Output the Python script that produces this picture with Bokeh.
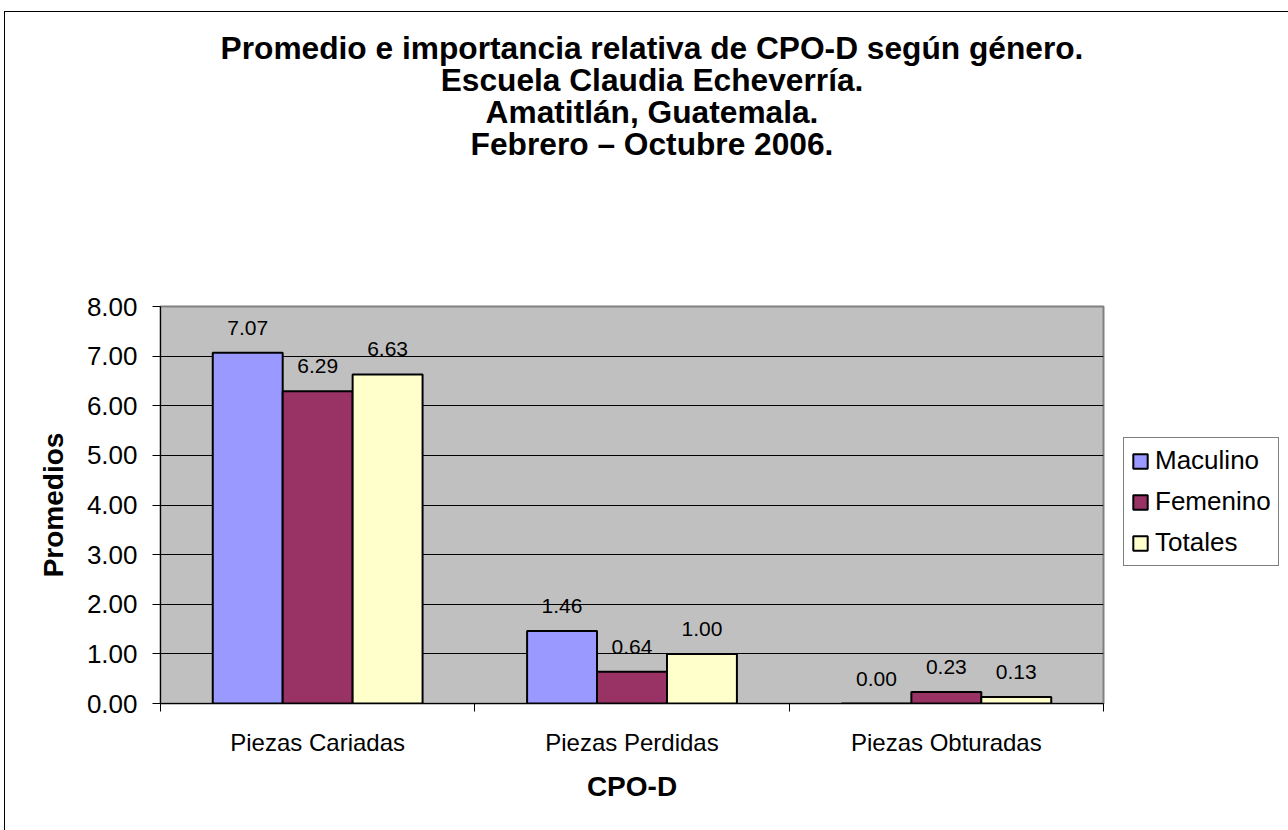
from bokeh.plotting import figure
from bokeh.models import (ColumnDataSource, FixedTicker, NumeralTickFormatter, Title,
                          LabelSet, Legend, LegendItem, Range1d, InlineStyleSheet)
from bokeh.core.properties import value
from bokeh.embed import file_html
from bokeh.resources import INLINE

# ---- data ----
categories = ["Piezas Cariadas", "Piezas Perdidas", "Piezas Obturadas"]
series_names = ["Maculino", "Femenino", "Totales"]
maculino = [7.07, 1.46, 0.00]
femenino = [6.29, 0.64, 0.23]
totales = [6.63, 1.00, 0.13]
series_colors = ["#9999FF", "#993366", "#FFFFCC"]
y_ticks = [0, 1, 2, 3, 4, 5, 6, 7, 8]
title_lines = [
    "Promedio e importancia relativa de CPO-D según género.",
    "Escuela Claudia Echeverría.",
    "Amatitlán, Guatemala.",
    "Febrero – Octubre 2006.",
]
x_label = "CPO-D"
y_label = "Promedios"

FONT = "Liberation Sans"
bar_w = 0.2225
offsets = [-bar_w, 0.0, bar_w]

p = figure(frame_width=943, frame_height=397,
           min_border_left=160, min_border_right=185,
           min_border_top=306, min_border_bottom=127,
           x_range=Range1d(0, len(categories)), y_range=Range1d(0, 8),
           output_backend="svg", toolbar_location=None, tools="")

# outer chart-area border: its right and bottom edges lie outside the picture
p.stylesheets = [InlineStyleSheet(css=(
    ":host { overflow: hidden; }"
    ":host::before { content: ''; position: absolute; left: 4px; top: 11px; "
    "width: 3000px; height: 3000px; box-sizing: border-box; "
    "border-left: 1px solid #000; border-top: 1px solid #000; "
    "pointer-events: none; z-index: 10; }"))]

p.background_fill_color = "#C0C0C0"
p.border_fill_color = "white"
p.outline_line_color = "#808080"
p.outline_line_width = 2

# x axis
p.xaxis.ticker = FixedTicker(ticks=[i + 0.5 for i in range(len(categories))],
                             minor_ticks=list(range(len(categories) + 1)))
p.xaxis.major_label_overrides = {i + 0.5: c for i, c in enumerate(categories)}
p.xaxis.major_tick_line_color = None
p.xaxis.major_tick_out = 8
p.xaxis.major_tick_in = 0
p.xaxis.minor_tick_out = 8
p.xaxis.minor_tick_in = 0
p.xaxis.minor_tick_line_color = "black"
p.xaxis.axis_line_color = "black"
p.xaxis.major_label_text_font = FONT
p.xaxis.major_label_text_font_size = "24px"
p.xaxis.major_label_text_color = "black"
p.xaxis.major_label_standoff = 17
p.xaxis.axis_label = x_label
p.xaxis.axis_label_text_font = FONT
p.xaxis.axis_label_text_font_size = "28px"
p.xaxis.axis_label_text_font_style = "bold"
p.xaxis.axis_label_text_color = "black"
p.xaxis.axis_label_standoff = 12

# y axis
p.yaxis.ticker = FixedTicker(ticks=y_ticks, minor_ticks=[])
p.yaxis.formatter = NumeralTickFormatter(format="0.00")
p.yaxis.major_tick_out = 8
p.yaxis.major_tick_in = 0
p.yaxis.major_tick_line_color = "black"
p.yaxis.minor_tick_line_color = None
p.yaxis.axis_line_color = "black"
p.yaxis.major_label_text_font = FONT
p.yaxis.major_label_text_font_size = "26px"
p.yaxis.major_label_text_color = "black"
p.yaxis.major_label_standoff = 15
p.yaxis.axis_label = y_label
p.yaxis.axis_label_text_font = FONT
p.yaxis.axis_label_text_font_size = "28px"
p.yaxis.axis_label_text_font_style = "bold"
p.yaxis.axis_label_text_color = "black"
p.yaxis.axis_label_standoff = 15

p.xgrid.grid_line_color = None
p.ygrid.ticker = FixedTicker(ticks=y_ticks, minor_ticks=[])
p.ygrid.grid_line_color = "black"
p.ygrid.grid_line_width = 1

# bars
items = []
for k, (name, vals, col) in enumerate(zip(series_names, [maculino, femenino, totales], series_colors)):
    xs = [i + 0.5 + offsets[k] for i in range(len(categories))]
    src = ColumnDataSource(dict(x=xs, top=vals, text=["%.2f" % v for v in vals]))
    r = p.vbar(x="x", top="top", width=bar_w, bottom=0, source=src,
               fill_color=col, line_color="black", line_width=2)
    items.append(LegendItem(label=name, renderers=[r]))
    labels = LabelSet(x="x", y="top", text="text", source=src, y_offset=25,
                      text_align="center", text_baseline="middle",
                      text_font=value(FONT), text_font_size="21px", text_color="black")
    p.add_layout(labels)

legend = Legend(items=items, location=(20, 137), margin=0)
legend.border_line_color = "black"
legend.border_line_width = 1
legend.background_fill_color = "white"
legend.background_fill_alpha = 1
legend.label_text_font = FONT
legend.label_text_font_size = "26px"
legend.label_text_color = "black"
legend.glyph_width = 18
legend.glyph_height = 18
legend.label_height = 30
legend.label_standoff = 6
legend.spacing = 10
legend.padding = 7
p.add_layout(legend, "right")

# title: one Title per line, added from the line nearest the plot outward
for i, line in enumerate(reversed(title_lines)):
    pad = dict(left=40, right=0, top=0, bottom=(148 if i == 0 else 0))
    p.add_layout(Title(text=line, align="center", standoff=-6, padding=pad,
                       text_font=FONT, text_font_size="31.7px", text_font_style="bold",
                       text_color="black"), "above")

open("out.html", "w").write(file_html(p, INLINE))
